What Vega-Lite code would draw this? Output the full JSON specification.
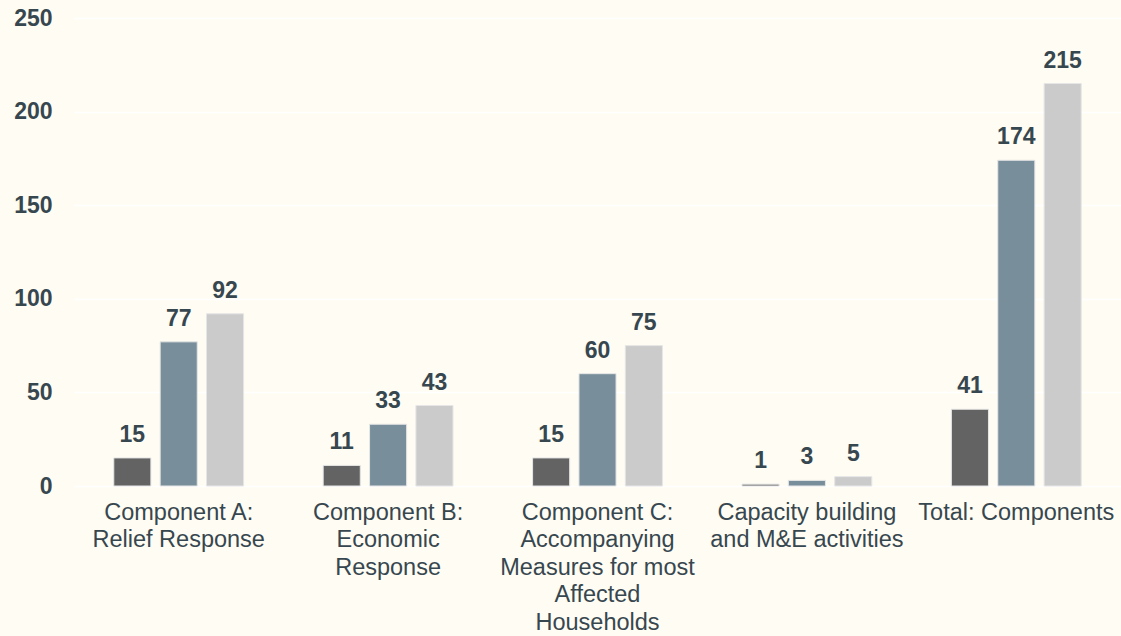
{
  "$schema": "https://vega.github.io/schema/vega-lite/v6.json",
  "width": 1047,
  "height": 468,
  "autosize": {"type": "none"},
  "padding": {"left": 74, "top": 18, "right": 0, "bottom": 150},
  "background": "#FFFCF3",
  "config": {
    "view": {"stroke": null},
    "font": "Liberation Sans"
  },
  "data": {
    "values": [
      {"component": "Component A:|Relief Response", "group": "Female", "value": 15},
      {"component": "Component A:|Relief Response", "group": "Male", "value": 77},
      {"component": "Component A:|Relief Response", "group": "Total", "value": 92},
      {"component": "Component B:|Economic|Response", "group": "Female", "value": 11},
      {"component": "Component B:|Economic|Response", "group": "Male", "value": 33},
      {"component": "Component B:|Economic|Response", "group": "Total", "value": 43},
      {"component": "Component C:|Accompanying|Measures for most|Affected|Households", "group": "Female", "value": 15},
      {"component": "Component C:|Accompanying|Measures for most|Affected|Households", "group": "Male", "value": 60},
      {"component": "Component C:|Accompanying|Measures for most|Affected|Households", "group": "Total", "value": 75},
      {"component": "Capacity building|and M&E activities", "group": "Female", "value": 1},
      {"component": "Capacity building|and M&E activities", "group": "Male", "value": 3},
      {"component": "Capacity building|and M&E activities", "group": "Total", "value": 5},
      {"component": "Total: Components", "group": "Female", "value": 41},
      {"component": "Total: Components", "group": "Male", "value": 174},
      {"component": "Total: Components", "group": "Total", "value": 215}
    ]
  },
  "encoding": {
    "x": {
      "field": "component",
      "type": "nominal",
      "sort": null,
      "scale": {"paddingInner": 0.38, "paddingOuter": 0.19},
      "axis": {
        "title": null,
        "labelAngle": 0,
        "labelExpr": "split(datum.label, '|')",
        "labelFontSize": 23.5,
        "labelColor": "#37474F",
        "labelLineHeight": 27.5,
        "labelPadding": 14,
        "labelBaseline": "top",
        "labelOverlap": false,
        "labelBound": false,
        "domain": false,
        "ticks": false,
        "labelLimit": 400
      }
    },
    "xOffset": {"field": "group", "type": "nominal", "sort": ["Female", "Male", "Total"], "scale": {"paddingInner": 0.2}},
    "y": {
      "field": "value",
      "type": "quantitative",
      "scale": {"domain": [0, 250]},
      "axis": {
        "title": null,
        "values": [0, 50, 100, 150, 200, 250],
        "labelFontSize": 23,
        "labelFontWeight": "bold",
        "labelColor": "#37474F",
        "labelPadding": 22,
        "domain": false,
        "ticks": false,
        "gridColor": "#FFFFFF",
        "gridWidth": 1.5
      }
    }
  },
  "layer": [
    {
      "mark": {"type": "bar", "stroke": "#E6E6E6", "strokeWidth": 1},
      "encoding": {
        "color": {
          "field": "group",
          "type": "nominal",
          "scale": {"domain": ["Female", "Male", "Total"], "range": ["#636363", "#788F9B", "#CBCBCB"]},
          "legend": null
        }
      }
    },
    {
      "mark": {"type": "text", "baseline": "alphabetic", "dy": -16, "fontSize": 23, "fontWeight": "bold", "color": "#37474F"},
      "encoding": {"text": {"field": "value", "type": "quantitative"}}
    }
  ]
}
